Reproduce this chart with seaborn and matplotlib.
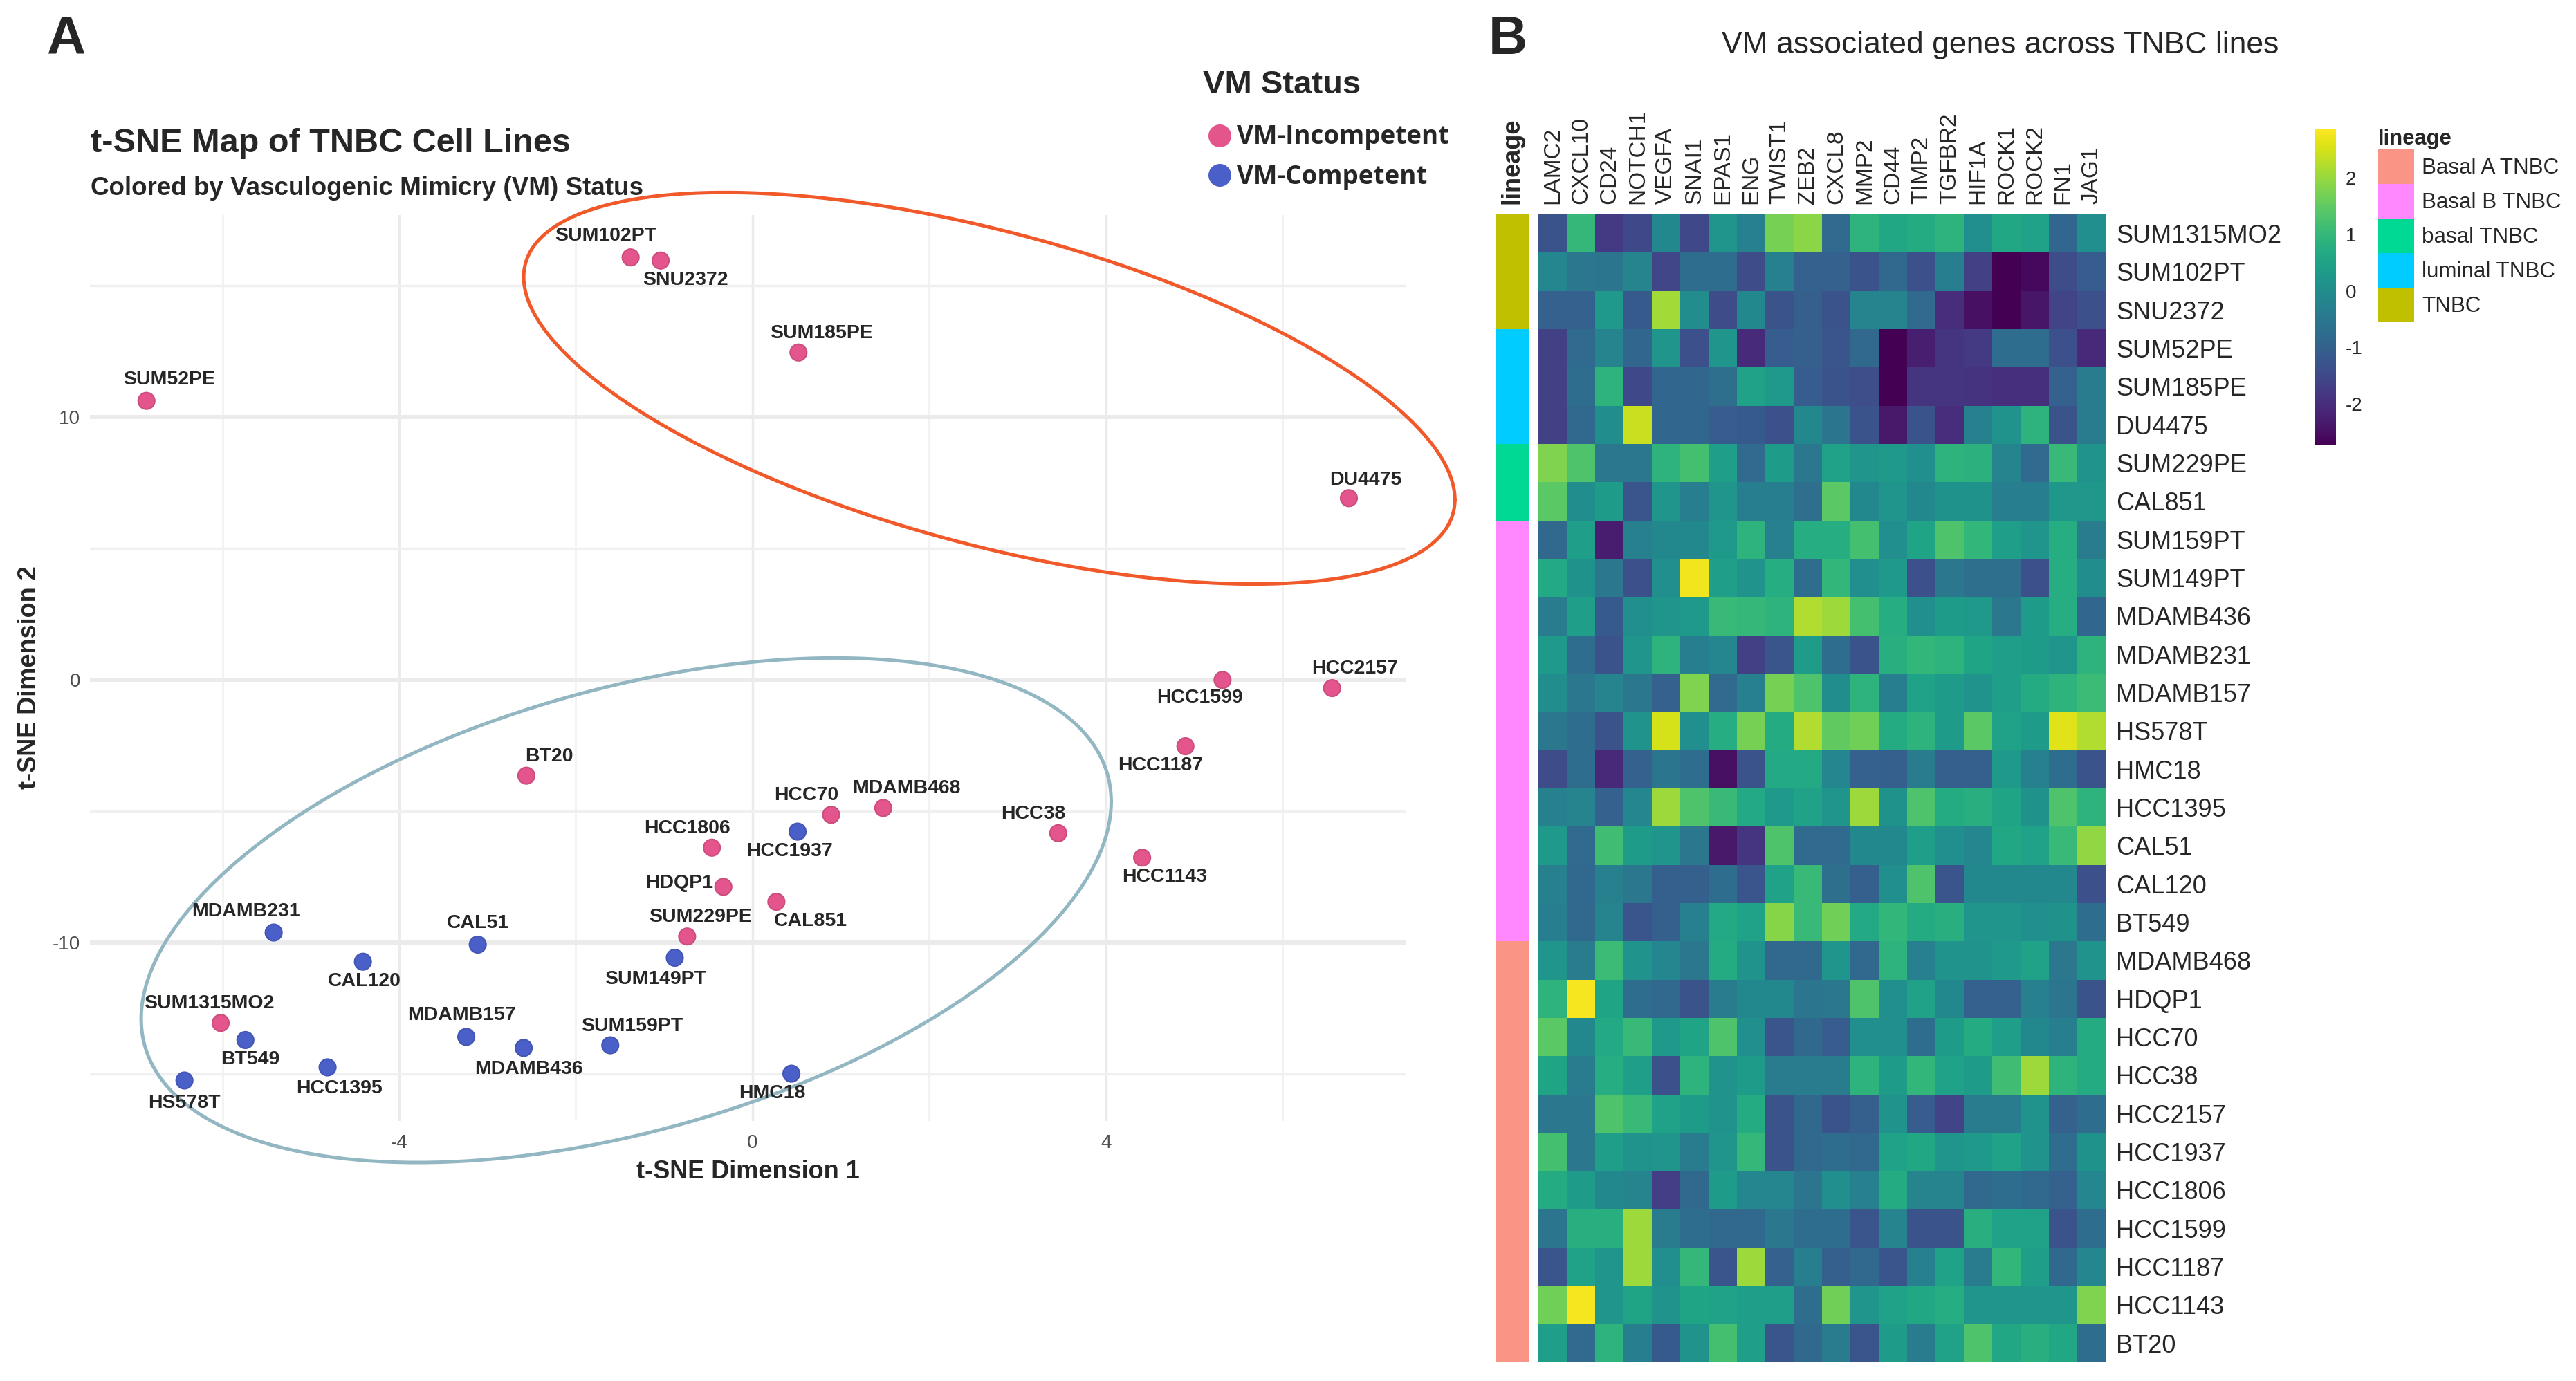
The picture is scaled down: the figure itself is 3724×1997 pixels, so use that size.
import numpy as np
import pandas as pd
import matplotlib
matplotlib.use("Agg")
import matplotlib.pyplot as plt
import seaborn as sns
from matplotlib.colors import ListedColormap
from matplotlib.patches import Patch

# ---------------- panel A : t-SNE coordinates ----------------
tsne_lines = ["SUM52PE", "SUM102PT", "SNU2372", "SUM185PE", "DU4475", "HCC1599",
              "HCC2157", "HCC1187", "BT20", "HCC70", "MDAMB468", "HCC1937", "HCC38",
              "HCC1806", "HCC1143", "HDQP1", "CAL851", "SUM229PE", "MDAMB231", "CAL51",
              "CAL120", "SUM149PT", "SUM1315MO2", "BT549", "MDAMB157", "MDAMB436",
              "SUM159PT", "HCC1395", "HS578T", "HMC18"]
tsne_x = [-6.86, -1.38, -1.04, 0.52, 6.75, 5.32, 6.56, 4.90, -2.56, 0.89, 1.48, 0.51, 3.46,
          -0.46, 4.41, -0.33, 0.27, -0.74, -5.42, -3.11, -4.41, -0.88, -6.02, -5.74,
          -3.24, -2.59, -1.61, -4.81, -6.43, 0.44]
tsne_y = [10.62, 16.08, 15.96, 12.46, 6.92, 0.0, -0.31, -2.52, -3.64, -5.13, -4.87, -5.77,
          -5.83, -6.38, -6.76, -7.87, -8.44, -9.76, -9.61, -10.07, -10.72, -10.57, -13.05,
          -13.70, -13.58, -14.0, -13.9, -14.74, -15.24, -14.98]
vm_status = ["VM-Incompetent"] * 11 + ["VM-Competent"] + ["VM-Incompetent"] * 6 + \
            ["VM-Competent"] * 4 + ["VM-Incompetent"] + ["VM-Competent"] * 7
status_order = ["VM-Incompetent", "VM-Competent"]
status_colors = {"VM-Incompetent": "#E3558C", "VM-Competent": "#4A60C8"}

# label offsets (pixels) like ggrepel placed them
label_offset = {
    "SUM52PE": (33, 31), "SUM102PT": (-36, 31), "SNU2372": (36, -28), "SUM185PE": (33, 28),
    "DU4475": (24, 26), "HCC1599": (-33, -26), "HCC2157": (33, 28), "HCC1187": (-36, -28),
    "BT20": (33, 28), "HCC70": (-36, 28), "MDAMB468": (33, 28), "HCC1937": (-12, -28),
    "HCC38": (-36, 28), "HCC1806": (-36, 28), "HCC1143": (33, -28), "HDQP1": (-64, 5),
    "CAL851": (50, -28), "SUM229PE": (19, 28), "MDAMB231": (-40, 31), "CAL51": (0, 31),
    "CAL120": (2, -28), "SUM149PT": (-28, -31), "SUM1315MO2": (-17, 28), "BT549": (7, -28),
    "MDAMB157": (-7, 31), "MDAMB436": (7, -31), "SUM159PT": (31, 28), "HCC1395": (17, -31),
    "HS578T": (0, -33), "HMC18": (-28, -28),
}

# ---------------- panel B : heatmap ----------------
genes = ["LAMC2", "CXCL10", "CD24", "NOTCH1", "VEGFA", "SNAI1", "EPAS1", "ENG", "TWIST1",
         "ZEB2", "CXCL8", "MMP2", "CD44", "TIMP2", "TGFBR2", "HIF1A", "ROCK1", "ROCK2",
         "FN1", "JAG1"]
cell_lines = ["SUM1315MO2", "SUM102PT", "SNU2372", "SUM52PE", "SUM185PE", "DU4475",
              "SUM229PE", "CAL851", "SUM159PT", "SUM149PT", "MDAMB436", "MDAMB231",
              "MDAMB157", "HS578T", "HMC18", "HCC1395", "CAL51", "CAL120", "BT549",
              "MDAMB468", "HDQP1", "HCC70", "HCC38", "HCC2157", "HCC1937", "HCC1806",
              "HCC1599", "HCC1187", "HCC1143", "BT20"]
lineage = ["TNBC"] * 3 + ["luminal TNBC"] * 3 + ["basal TNBC"] * 2 + \
          ["Basal B TNBC"] * 11 + ["Basal A TNBC"] * 11
zscores = [
    [-1.3, 1.0, -1.8, -1.5, -0.1, -1.5, 0.2, -0.3, 1.7, 1.9, -0.8, 0.9, 0.6, 0.7, 0.9, 0.05, 0.6, 0.5, -0.9, 0.05],
    [-0.15, -0.5, -0.55, -0.2, -1.55, -0.75, -0.75, -1.45, -0.3, -1.0, -1.0, -1.3, -0.85, -1.35, -0.35, -1.65, -2.7, -2.6, -1.45, -1.1],
    [-1.0, -1.0, 0.3, -1.15, 2.1, 0.0, -1.45, -0.1, -1.3, -1.05, -1.3, -0.2, -0.2, -0.8, -2.0, -2.5, -2.7, -2.4, -1.6, -1.35],
    [-1.65, -0.8, -0.2, -0.9, 0.2, -1.35, 0.2, -2.05, -1.1, -1.05, -1.25, -0.85, -2.7, -2.25, -1.85, -1.8, -0.75, -0.75, -1.35, -2.1],
    [-1.65, -0.75, 0.9, -1.5, -0.9, -0.9, -0.7, 0.5, 0.3, -1.1, -1.3, -1.4, -2.7, -1.85, -1.85, -1.9, -1.95, -1.95, -1.0, -0.4],
    [-1.65, -0.85, 0.0, 2.4, -0.9, -0.9, -1.1, -1.15, -1.35, -0.1, -0.55, -1.3, -2.35, -1.3, -2.0, -0.3, 0.15, 0.9, -1.3, -0.4],
    [1.8, 1.3, -0.5, -0.5, 0.9, 1.2, 0.4, -0.8, 0.35, -0.5, 0.5, 0.2, 0.3, 0.05, 0.9, 0.85, -0.2, -0.8, 1.05, 0.15],
    [1.45, 0.0, 0.35, -1.25, 0.2, -0.35, 0.2, -0.35, -0.35, -0.7, 1.45, -0.1, 0.2, -0.1, 0.1, 0.1, -0.35, -0.35, 0.25, 0.25],
    [-0.85, 0.4, -2.3, -0.3, -0.1, -0.1, 0.3, 0.9, -0.3, 0.75, 0.75, 1.2, 0.05, 0.55, 1.3, 0.95, 0.4, 0.2, 0.75, -0.4],
    [0.65, 0.1, -0.5, -1.35, 0.05, 2.75, 0.4, 0.15, 0.75, -0.75, 0.95, 0.05, 0.3, -1.35, -0.5, -0.7, -0.7, -1.35, 0.75, 0.0],
    [-0.4, 0.4, -1.15, 0.05, 0.2, 0.3, 1.05, 1.0, 0.9, 2.2, 2.05, 1.2, 0.75, 0.05, 0.35, 0.3, -0.5, 0.35, 0.75, -0.9],
    [0.3, -0.75, -1.3, 0.2, 0.9, -0.35, -0.15, -1.65, -1.25, 0.35, -0.75, -1.3, 0.8, 0.95, 0.9, 0.55, 0.4, 0.35, 0.2, 0.9],
    [0.0, -0.5, -0.2, -0.5, -1.0, 1.8, -0.8, -0.3, 1.7, 1.3, 0.0, 0.9, -0.35, 0.5, 0.35, 0.15, 0.4, 0.7, 0.9, 1.1],
    [-0.5, -0.75, -1.3, 0.15, 2.5, 0.05, 0.75, 1.7, 0.7, 2.2, 1.5, 1.65, 0.7, 0.9, 0.35, 1.45, 0.5, 0.35, 2.6, 2.2],
    [-1.45, -0.75, -2.1, -1.0, -0.55, -0.75, -2.5, -1.3, 0.65, 0.65, -0.15, -1.0, -1.05, -0.4, -1.05, -1.05, 0.3, -0.3, -0.75, -1.3],
    [-0.3, -0.2, -1.0, -0.15, 2.05, 1.3, 1.05, 0.65, 0.3, 0.5, 0.2, 2.05, 0.1, 1.3, 0.7, 0.8, 0.55, 0.1, 1.3, 0.9],
    [0.3, -0.8, 1.15, 0.35, 0.2, -0.5, -2.35, -1.85, 1.3, -0.8, -0.8, -0.1, -0.1, 0.4, 0.05, -0.15, 0.6, 0.5, 1.05, 1.95],
    [-0.3, -0.85, -0.3, -0.5, -1.05, -1.05, -0.75, -1.25, 0.5, 1.05, -0.7, -1.05, 0.05, 1.3, -1.25, -0.1, -0.1, -0.1, -0.1, -1.35],
    [-0.35, -0.85, -0.2, -1.25, -1.05, -0.3, 0.65, 0.5, 1.85, 1.05, 1.65, 0.65, 0.95, 0.7, 0.8, 0.2, 0.2, 0.05, 0.1, -0.75],
    [0.2, -0.4, 1.1, 0.15, -0.15, -0.5, 0.7, 0.15, -0.85, -0.85, 0.2, -0.85, 0.9, -0.3, 0.15, 0.15, 0.3, 0.5, -0.5, 0.15],
    [0.9, 2.8, 0.55, -0.75, -0.85, -1.3, -0.4, -0.1, -0.1, -0.55, -0.5, 1.3, 0.05, 0.5, -0.1, -1.0, -1.0, -0.3, -0.55, -1.3],
    [1.45, -0.1, 0.65, 1.05, 0.3, 0.55, 1.3, 0.05, -1.25, -0.85, -1.1, 0.05, 0.05, -0.75, 0.35, 0.7, 0.4, -0.1, -0.35, 0.7],
    [0.55, -0.4, 0.75, 0.4, -1.35, 0.9, 0.15, 0.35, -0.4, -0.4, -0.4, 0.9, 0.35, 0.95, 0.5, 0.35, 1.15, 2.05, 0.9, 0.7],
    [-0.5, -0.5, 1.3, 1.05, 0.5, 0.35, 0.15, 0.7, -1.3, -0.85, -1.3, -1.05, 0.15, -1.1, -1.6, -0.4, -0.4, 0.15, -1.0, -0.75],
    [1.2, -0.5, 0.4, 0.15, 0.2, -0.4, 0.2, 1.0, -1.3, -0.85, -0.75, -0.85, 0.5, 0.6, 0.2, 0.3, 0.5, 0.15, -0.75, 0.1],
    [0.7, 0.35, -0.1, -0.2, -1.7, -0.85, 0.35, -0.15, -0.15, -0.55, 0.05, -0.3, 0.7, -0.2, -0.2, -0.85, -0.75, -0.85, -1.0, -0.15],
    [-0.55, 0.8, 0.8, 2.05, -0.4, -0.75, -0.85, -0.85, -0.5, -0.75, -0.75, -1.25, -0.2, -1.3, -1.3, 0.8, 0.5, 0.5, -1.3, -0.75],
    [-1.25, 0.5, 0.2, 2.05, 0.05, 1.0, -1.25, 2.05, -1.0, -0.35, -1.05, -0.85, -1.25, -0.3, 0.5, -0.4, 0.95, 0.4, -0.85, -0.15],
    [1.65, 2.8, 0.2, 0.55, 0.15, 0.55, 0.5, 0.4, 0.4, -0.75, 1.65, 0.2, 0.5, 0.6, 0.75, 0.2, 0.2, 0.2, 0.2, 1.8],
    [0.4, -0.8, 0.9, -0.35, -1.15, 0.15, 1.2, 0.4, -1.25, -0.85, -0.4, -1.25, 0.35, -0.4, 0.5, 1.3, 0.6, 0.8, 0.6, -0.75],
]
lineage_order = ["Basal A TNBC", "Basal B TNBC", "basal TNBC", "luminal TNBC", "TNBC"]
lineage_colors = ["#FA9484", "#FF88FF", "#00D993", "#00CCFF", "#C0C000"]

W, H = 3724, 1997
sns.set_theme(style="white")
plt.rcParams["font.family"] = ["Liberation Sans", "DejaVu Sans"]
plt.rcParams["axes.unicode_minus"] = False

fig = plt.figure(figsize=(W / 100, H / 100), dpi=100)


def ellipse(ax, cx, cy, sx, sy, rho, color):
    # outline of an ellipse given half extents and tilt (correlation)
    t = np.linspace(0, 2 * np.pi, 400)
    cov = np.array([[sx ** 2, rho * sx * sy], [rho * sx * sy, sy ** 2]])
    L = np.linalg.cholesky(cov)
    pts = L @ np.vstack([np.cos(t), np.sin(t)])
    ax.plot(cx + pts[0], cy + pts[1], color=color, lw=3.6, clip_on=False, zorder=2)


# ===== panel A =====
ax = fig.add_axes([130 / W, 1 - 1621 / H, 1903 / W, 1310 / H])
df = pd.DataFrame({"line": tsne_lines, "x": tsne_x, "y": tsne_y, "status": vm_status})
sns.scatterplot(data=df, x="x", y="y", hue="status", hue_order=status_order,
                palette=status_colors, s=300, linewidth=1.5, ax=ax, zorder=4)
coll = ax.collections[0]
coll.set_edgecolor(coll.get_facecolors()[:, :3] * 0.9)

ax.set_xlim(-7.50, 7.40)
ax.set_ylim(-16.78, 17.69)
ax.set_xticks([-4, 0, 4])
ax.set_xticks([-6, -2, 2, 6], minor=True)
ax.set_yticks([-10, 0, 10])
ax.set_yticks([-15, -5, 5, 15], minor=True)
ax.grid(which="major", axis="y", color="#EBEBEB", lw=4.3)
ax.grid(which="minor", axis="y", color="#F0F0F0", lw=2.5)
ax.grid(which="major", axis="x", color="#EBEBEB", lw=2.5)
ax.grid(which="minor", axis="x", color="#F0F0F0", lw=1.8)
ax.set_axisbelow(True)
for sp in ax.spines.values():
    sp.set_visible(False)
ax.tick_params(which="both", length=0, labelsize=20, labelcolor="#4D4D4D")
ax.tick_params(axis="x", pad=14)
ax.tick_params(axis="y", pad=10)

ax.set_xlabel("t-SNE Dimension 1", fontsize=26, fontweight="bold")
ax.set_ylabel("t-SNE Dimension 2", fontsize=26, fontweight="bold")
ax.xaxis.set_label_coords(0.5, -0.056)
ax.xaxis.label.set_va("center")
ax.yaxis.set_label_coords(-0.046, 0.49)
ax.yaxis.label.set_va("center")

ellipse(ax, 2.68, 11.1, 5.27, 7.45, -0.568, "#F1592A")
ellipse(ax, -1.43, -8.76, 5.49, 9.6, 0.43, "#92B7C2")

for name, x, y in zip(tsne_lines, tsne_x, tsne_y):
    ax.annotate(name, (x, y), xytext=label_offset[name], textcoords="offset pixels",
                ha="center", va="center", fontsize=20.5, fontweight="bold", zorder=5)

sns.move_legend(ax, "upper left", bbox_to_anchor=(1724 / W, 1 - 86 / H),
                bbox_transform=fig.transFigure, frameon=False, title="VM Status",
                fontsize=26.5, title_fontsize=34, markerscale=1.46,
                handlelength=1.3, handletextpad=0.05, labelspacing=0.52,
                alignment="left", borderaxespad=0)
leg = ax.get_legend()
leg.get_title().set_fontweight("bold")
leg._legend_box.sep = 25  # extra room between title and entries
for txt in leg.get_texts():
    txt.set_fontfamily(["Open Sans", "DejaVu Sans"])
    txt.set_fontweight("bold")

fig.text(131 / W, 1 - 208 / H, "t-SNE Map of TNBC Cell Lines", fontsize=35,
         fontweight="bold", va="center")
fig.text(131 / W, 1 - 272 / H, "Colored by Vasculogenic Mimicry (VM) Status",
         fontsize=26.5, fontweight="bold", va="center")
fig.text(67 / W, 1 - 57 / H, "A", fontsize=56, fontweight="bold", va="center")

# ===== panel B =====
ax_hm = fig.add_axes([2224 / W, 1 - 1970 / H, 820 / W, 1660 / H])
ax_lin = fig.add_axes([2163 / W, 1 - 1970 / H, 47 / W, 1660 / H])
ax_cb = fig.add_axes([3346 / W, 1 - 643 / H, 31 / W, 457 / H])

mat = pd.DataFrame(zscores, index=cell_lines, columns=genes)
sns.heatmap(mat, cmap="viridis", vmin=-2.72, vmax=2.87, ax=ax_hm, cbar_ax=ax_cb,
            xticklabels=True, yticklabels=True)
ax_hm.set_xlabel("")
ax_hm.set_ylabel("")
ax_hm.xaxis.tick_top()
ax_hm.yaxis.tick_right()
ax_hm.tick_params(axis="x", length=0, pad=11, labelsize=24, rotation=90)
ax_hm.tick_params(axis="y", length=0, pad=11, labelsize=26, rotation=0)
for lab in ax_hm.get_xticklabels():
    lab.set_va("bottom")

cbar = ax_hm.collections[0].colorbar
cbar.set_ticks([-2, -1, 0, 1, 2])
cbar.outline.set_visible(False)
ax_cb.tick_params(length=0, labelsize=20, pad=10)

codes = np.array([lineage_order.index(l) for l in lineage])[:, None]
sns.heatmap(codes, cmap=ListedColormap(lineage_colors), vmin=-0.5, vmax=4.5, cbar=False,
            ax=ax_lin, xticklabels=["lineage"], yticklabels=False)
ax_lin.xaxis.tick_top()
ax_lin.tick_params(axis="x", length=0, pad=11, labelsize=26, rotation=90)
for lab in ax_lin.get_xticklabels():
    lab.set_fontweight("bold")
    lab.set_va("bottom")

handles = [Patch(facecolor=c, edgecolor="none", label=l)
           for l, c in zip(lineage_order, lineage_colors)]
fig.legend(handles=handles, loc="upper left", bbox_to_anchor=(3438 / W, 1 - 186 / H),
           frameon=False, title="lineage", fontsize=22.6,
           title_fontproperties={"weight": "bold", "size": 22.3},
           handlelength=1.66, handleheight=2.07, labelspacing=0, handletextpad=0.35,
           alignment="left", borderpad=0, borderaxespad=0)

fig.text(2892 / W, 1 - 65 / H, "VM associated genes across TNBC lines", fontsize=32,
         ha="center", va="center")
fig.text(2152 / W, 1 - 58 / H, "B", fontsize=56, fontweight="bold", va="center")

fig.savefig("out.png", dpi=100)
